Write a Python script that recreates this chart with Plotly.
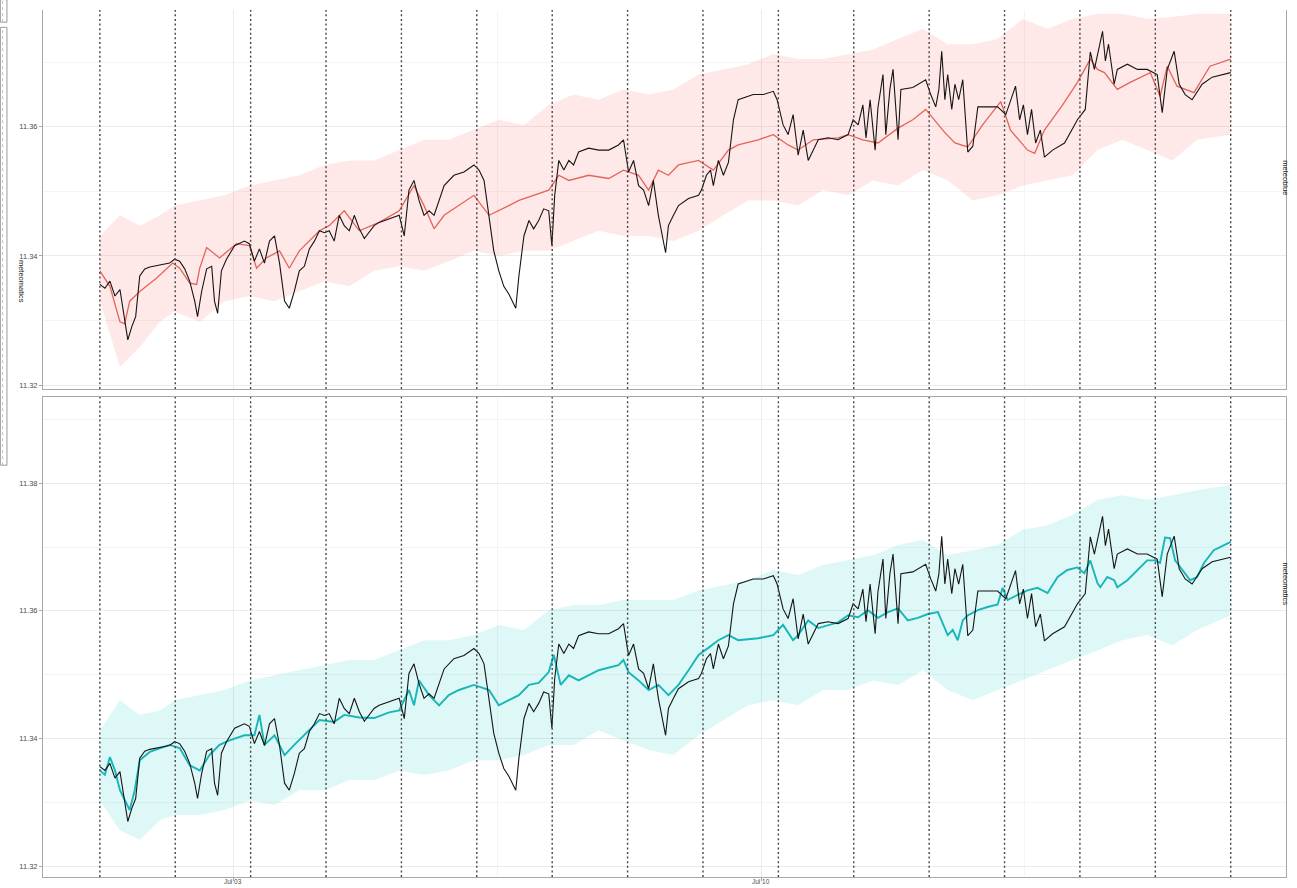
import pandas as pd
import plotly.graph_objects as go
from plotly.subplots import make_subplots

# Series start (first daily marker); all times below are hours after it
start = pd.Timestamp("2023-07-01 05:30")

# Observed level (black), shared by both panels
obs_hours = [0, 1.6, 3.2, 4.8, 6.4, 7.9, 8.9, 10.2, 11.4, 12.7, 14.3, 15.9, 19.1, 22.2, 23.8, 25.4,
             27.0, 28.6, 30.2, 31.1, 32.4, 34.0, 35.6, 36.5, 37.5, 38.7, 40.3, 42.9, 46.0, 47.6, 49.2,
             50.8, 52.4, 54.0, 55.6, 57.2, 58.8, 60.3, 61.9, 63.5, 65.1, 66.7, 68.3, 69.9, 71.5, 73.0,
             74.6, 76.2, 77.8, 79.4, 81.0, 82.6, 84.2, 85.7, 87.3, 88.9, 92.1, 95.3, 96.9, 98.4, 100.0,
             101.6, 103.2, 104.8, 106.4, 108.0, 109.6, 112.7, 115.9, 119.1, 120.7, 122.3, 123.9, 125.4,
             127.0, 128.6, 130.2, 132.4, 133.4, 135.0, 136.6, 138.1, 139.7, 141.3, 142.9, 143.9, 144.8,
             146.1, 147.7, 149.3, 150.8, 152.4, 155.6, 158.8, 162.0, 165.1, 166.7, 168.3, 169.9, 171.5,
             173.1, 174.7, 176.2, 177.8, 180.1, 181.0, 182.6, 184.2, 187.4, 190.6, 191.5, 193.1, 194.4,
             195.3, 196.9, 198.5, 200.1, 201.7, 203.2, 204.8, 208.0, 211.2, 214.4, 215.6, 217.5, 219.1,
             220.7, 222.3, 223.9, 225.5, 227.1, 228.7, 231.8, 235.0, 238.2, 239.8, 241.4, 242.9, 243.9,
             245.2, 246.8, 247.7, 249.3, 250.2, 251.5, 252.5, 254.1, 255.0, 258.8, 262.9, 264.5, 266.1,
             267.1, 268.0, 269.0, 269.9, 271.2, 272.2, 273.4, 274.7, 276.3, 277.9, 279.5, 285.8, 288.4,
             289.9, 291.5, 292.8, 294.0, 295.3, 296.6, 297.9, 299.4, 300.7, 303.3, 307.1, 311.2, 313.7,
             315.3, 316.6, 319.2, 320.1, 321.1, 322.9, 323.9, 327.1, 330.3, 333.4, 336.6, 338.2, 339.8,
             342.0, 343.6, 345.5, 347.7, 350.9, 354.1, 360.0]
obs_level = [11.3356, 11.3350, 11.3361, 11.3338, 11.3348, 11.3298, 11.3270, 11.3291, 11.3306, 11.3369,
             11.3380, 11.3383, 11.3386, 11.3389, 11.3395, 11.3392, 11.3380, 11.3361, 11.3330, 11.3306,
             11.3345, 11.3380, 11.3384, 11.3330, 11.3311, 11.3377, 11.3395, 11.3416, 11.3423, 11.3419,
             11.3392, 11.3411, 11.3389, 11.3423, 11.3431, 11.3389, 11.3330, 11.3319, 11.3345, 11.3377,
             11.3384, 11.3411, 11.3423, 11.3439, 11.3436, 11.3439, 11.3423, 11.3463, 11.3447, 11.3439,
             11.3463, 11.3442, 11.3427, 11.3436, 11.3447, 11.3452, 11.3458, 11.3463, 11.3431, 11.3502,
             11.3517, 11.3486, 11.3463, 11.3470, 11.3463, 11.3486, 11.3509, 11.3525, 11.3530, 11.3541,
             11.3533, 11.3517, 11.3463, 11.3408, 11.3377, 11.3353, 11.3341, 11.3319, 11.3369, 11.3431,
             11.3455, 11.3442, 11.3455, 11.3473, 11.3470, 11.3416, 11.3494, 11.3548, 11.3533, 11.3548,
             11.3541, 11.3561, 11.3567, 11.3564, 11.3564, 11.3572, 11.3580, 11.3530, 11.3548, 11.3509,
             11.3502, 11.3478, 11.3517, 11.3463, 11.3405, 11.3447, 11.3463, 11.3478, 11.3489, 11.3494,
             11.3502, 11.3525, 11.3533, 11.3509, 11.3548, 11.3525, 11.3545, 11.3611, 11.3642, 11.3645,
             11.3650, 11.3650, 11.3655, 11.3642, 11.3603, 11.3588, 11.3619, 11.3556, 11.3595, 11.3548,
             11.3564, 11.3580, 11.3583, 11.3580, 11.3588, 11.3611, 11.3603, 11.3634, 11.3583, 11.3642,
             11.3564, 11.3630, 11.3681, 11.3588, 11.3658, 11.3689, 11.3580, 11.3658, 11.3661, 11.3673,
             11.3650, 11.3631, 11.3658, 11.3717, 11.3642, 11.3681, 11.3627, 11.3666, 11.3642, 11.3673,
             11.3561, 11.3570, 11.3631, 11.3631, 11.3619, 11.3642, 11.3663, 11.3611, 11.3634, 11.3588,
             11.3627, 11.3575, 11.3595, 11.3553, 11.3564, 11.3575, 11.3611, 11.3627, 11.3716, 11.3689,
             11.3748, 11.3702, 11.3728, 11.3666, 11.3689, 11.3697, 11.3689, 11.3689, 11.3681, 11.3622,
             11.3689, 11.3717, 11.3666, 11.3650, 11.3642, 11.3666, 11.3677, 11.3684]

# meteoblue forecast (red)
mb_hours = [0, 3.2, 6.4, 7.9, 9.5, 12.7, 18.1, 23.2, 25.4, 28.6, 30.8, 31.8, 34.0, 38.1, 43.5, 47.6,
            49.9, 53.0, 57.2, 60.3, 63.5, 67.6, 69.9, 73.0, 77.8, 82.6, 88.9, 95.3, 100.0, 103.2, 106.4,
            109.6, 114.3, 119.1, 123.9, 127.0, 130.2, 133.4, 138.1, 142.9, 146.1, 149.3, 155.6, 162.0,
            166.7, 171.5, 174.7, 177.8, 181.0, 184.2, 190.6, 195.3, 200.1, 203.2, 209.6, 214.4, 219.1,
            222.3, 227.1, 235.0, 238.2, 242.9, 247.7, 254.1, 258.8, 262.9, 269.0, 272.2, 276.3, 281.0,
            286.8, 289.9, 295.3, 297.6, 300.7, 306.5, 311.2, 315.3, 317.6, 319.8, 323.9, 328.0, 334.4,
            337.5, 339.8, 342.9, 348.3, 353.4, 360.0]
mb_level = [11.3377, 11.3353, 11.3298, 11.3295, 11.3330, 11.3345, 11.3366, 11.3389, 11.3381, 11.3358,
            11.3356, 11.3381, 11.3413, 11.3397, 11.3419, 11.3416, 11.3381, 11.3397, 11.3408, 11.3381,
            11.3408, 11.3428, 11.3439, 11.3447, 11.3470, 11.3439, 11.3452, 11.3470, 11.3509, 11.3478,
            11.3442, 11.3463, 11.3478, 11.3494, 11.3463, 11.3470, 11.3478, 11.3486, 11.3494, 11.3502,
            11.3525, 11.3517, 11.3525, 11.3520, 11.3533, 11.3525, 11.3502, 11.3533, 11.3525, 11.3541,
            11.3548, 11.3533, 11.3564, 11.3572, 11.3580, 11.3588, 11.3572, 11.3564, 11.3580, 11.3583,
            11.3588, 11.3580, 11.3575, 11.3598, 11.3611, 11.3627, 11.3591, 11.3575, 11.3569, 11.3603,
            11.3639, 11.3595, 11.3564, 11.3559, 11.3595, 11.3634, 11.3669, 11.3705, 11.3689, 11.3684,
            11.3658, 11.3669, 11.3684, 11.3647, 11.3694, 11.3663, 11.3653, 11.3694, 11.3705]

# meteomatics forecast (teal)
mm_hours = [0, 1.6, 3.2, 4.8, 6.4, 7.9, 9.5, 11.1, 12.7, 15.9, 19.1, 22.2, 25.4, 28.6, 31.8, 34.9,
            38.1, 41.3, 46.0, 49.2, 50.8, 52.4, 55.6, 58.8, 61.9, 65.1, 69.9, 74.6, 77.8, 82.6, 87.3,
            92.1, 95.3, 98.4, 100.0, 101.6, 104.8, 108.0, 111.1, 114.3, 119.1, 123.9, 127.0, 130.2,
            133.4, 136.6, 139.7, 142.9, 144.5, 146.7, 149.3, 152.4, 155.6, 158.8, 165.1, 166.7, 168.3,
            171.5, 174.7, 177.8, 181.0, 184.2, 187.4, 190.6, 193.7, 196.9, 200.1, 203.2, 209.6, 214.4,
            217.5, 220.7, 222.3, 225.5, 228.7, 231.8, 235.0, 238.2, 241.4, 244.5, 247.7, 250.9, 254.1,
            257.2, 260.4, 263.6, 266.8, 269.9, 271.5, 273.1, 274.7, 276.3, 279.5, 282.6, 285.8, 287.4,
            289.0, 292.2, 295.3, 298.5, 301.7, 304.9, 308.0, 311.2, 313.4, 315.3, 317.6, 318.5, 320.7,
            322.9, 323.9, 327.1, 330.3, 333.4, 335.7, 337.5, 339.1, 340.7, 342.3, 343.9, 347.1, 349.3,
            351.5, 354.6, 360.0]
mm_level = [11.3350, 11.3343, 11.3371, 11.3350, 11.3319, 11.3303, 11.3288, 11.3319, 11.3366, 11.3379,
            11.3385, 11.3390, 11.3385, 11.3358, 11.3350, 11.3374, 11.3390, 11.3397, 11.3405, 11.3405,
            11.3437, 11.3390, 11.3405, 11.3374, 11.3390, 11.3405, 11.3429, 11.3426, 11.3437, 11.3433,
            11.3432, 11.3441, 11.3444, 11.3476, 11.3452, 11.3491, 11.3468, 11.3452, 11.3468, 11.3476,
            11.3484, 11.3476, 11.3452, 11.3460, 11.3468, 11.3484, 11.3487, 11.3504, 11.3531, 11.3484,
            11.3499, 11.3491, 11.3499, 11.3507, 11.3515, 11.3523, 11.3504, 11.3491, 11.3476, 11.3484,
            11.3468, 11.3484, 11.3507, 11.3531, 11.3542, 11.3554, 11.3562, 11.3554, 11.3557, 11.3562,
            11.3578, 11.3554, 11.3562, 11.3585, 11.3573, 11.3578, 11.3582, 11.3593, 11.3590, 11.3601,
            11.3589, 11.3598, 11.3604, 11.3585, 11.3589, 11.3595, 11.3598, 11.3562, 11.3570, 11.3554,
            11.3585, 11.3593, 11.3601, 11.3606, 11.3610, 11.3636, 11.3617, 11.3625, 11.3632, 11.3636,
            11.3628, 11.3653, 11.3664, 11.3668, 11.3659, 11.3679, 11.3643, 11.3637, 11.3653, 11.3648,
            11.3637, 11.3648, 11.3664, 11.3679, 11.3679, 11.3675, 11.3715, 11.3714, 11.3679, 11.3668,
            11.3648, 11.3653, 11.3675, 11.3695, 11.3708]

# Forecast spread bands, sampled on a common time grid
band_hours = [0, 6.4, 12.7, 19.1, 23.8, 31.8, 39.7, 47.6, 55.6, 63.5, 71.5, 79.4, 87.3, 95.3, 103.2,
              111.1, 119.1, 127.0, 135.0, 142.9, 150.8, 158.8, 166.7, 174.7, 182.6, 190.6, 198.5,
              206.4, 214.4, 222.3, 230.2, 238.2, 246.1, 254.1, 262.0, 269.9, 277.9, 285.8, 293.8,
              301.7, 309.6, 317.6, 325.5, 333.4, 341.4, 349.3, 360.0]
mb_upper = [11.3431, 11.3463, 11.3447, 11.3463, 11.3478, 11.3486, 11.3494, 11.3509, 11.3517, 11.3525,
            11.3541, 11.3548, 11.3548, 11.3564, 11.3580, 11.3580, 11.3595, 11.3611, 11.3603, 11.3634,
            11.3650, 11.3642, 11.3658, 11.3650, 11.3658, 11.3681, 11.3689, 11.3697, 11.3713, 11.3705,
            11.3705, 11.3713, 11.3720, 11.3736, 11.3752, 11.3728, 11.3728, 11.3736, 11.3767, 11.3752,
            11.3767, 11.3775, 11.3775, 11.3767, 11.3770, 11.3775, 11.3775]
mb_lower = [11.3330, 11.3228, 11.3259, 11.3298, 11.3314, 11.3298, 11.3330, 11.3338, 11.3330, 11.3345,
            11.3361, 11.3353, 11.3377, 11.3384, 11.3377, 11.3392, 11.3408, 11.3400, 11.3408, 11.3408,
            11.3423, 11.3439, 11.3431, 11.3431, 11.3423, 11.3439, 11.3463, 11.3486, 11.3486, 11.3478,
            11.3502, 11.3494, 11.3517, 11.3509, 11.3533, 11.3517, 11.3486, 11.3494, 11.3509, 11.3517,
            11.3525, 11.3564, 11.3580, 11.3564, 11.3548, 11.3580, 11.3588]
mm_upper = [11.3413, 11.3460, 11.3437, 11.3444, 11.3460, 11.3468, 11.3476, 11.3491, 11.3499, 11.3507,
            11.3515, 11.3523, 11.3523, 11.3538, 11.3554, 11.3554, 11.3562, 11.3578, 11.3570, 11.3601,
            11.3609, 11.3609, 11.3617, 11.3617, 11.3617, 11.3632, 11.3640, 11.3648, 11.3664, 11.3656,
            11.3672, 11.3679, 11.3687, 11.3703, 11.3711, 11.3687, 11.3695, 11.3703, 11.3727, 11.3734,
            11.3750, 11.3774, 11.3781, 11.3774, 11.3781, 11.3789, 11.3797]
mm_lower = [11.3303, 11.3256, 11.3241, 11.3272, 11.3280, 11.3280, 11.3288, 11.3303, 11.3296, 11.3319,
            11.3319, 11.3335, 11.3335, 11.3350, 11.3343, 11.3350, 11.3366, 11.3366, 11.3374, 11.3390,
            11.3390, 11.3413, 11.3397, 11.3382, 11.3374, 11.3405, 11.3429, 11.3452, 11.3460, 11.3452,
            11.3476, 11.3476, 11.3491, 11.3484, 11.3507, 11.3476, 11.3460, 11.3476, 11.3491, 11.3507,
            11.3523, 11.3538, 11.3554, 11.3562, 11.3546, 11.3570, 11.3593]

panel_names = ["meteoblue", "meteomatics"]
week_ticks = ["2023-07-03", "2023-07-10"]
week_labels = ["Jul 03", "Jul 10"]
mid_week = ["2023-07-06 12:00", "2023-07-13 12:00"]
y_major = [11.32, 11.34, 11.36, 11.38]
y_minor = [11.31, 11.33, 11.35, 11.37, 11.39]


def to_time(hours):
    return start + pd.to_timedelta(hours, unit="h")


obs_t = to_time(obs_hours)
band_t = to_time(band_hours)

fig = make_subplots(rows=2, cols=1, shared_xaxes=True, vertical_spacing=0.01)

panels = [
    (1, mb_hours, mb_level, mb_lower, mb_upper, "#E5645A", 1.3, "rgba(248,118,109,0.16)"),
    (2, mm_hours, mm_level, mm_lower, mm_upper, "#17B6B8", 1.9, "rgba(0,191,196,0.13)"),
]
for row, f_hours, f_level, lo, hi, col, lw, band_col in panels:
    fig.add_trace(go.Scatter(x=band_t, y=lo, mode="lines", line=dict(width=0),
                             hoverinfo="skip", showlegend=False), row=row, col=1)
    fig.add_trace(go.Scatter(x=band_t, y=hi, mode="lines", line=dict(width=0),
                             fill="tonexty", fillcolor=band_col,
                             hoverinfo="skip", showlegend=False), row=row, col=1)
    fig.add_trace(go.Scatter(x=to_time(f_hours), y=f_level, mode="lines",
                             line=dict(color=col, width=lw), showlegend=False),
                  row=row, col=1)
    fig.add_trace(go.Scatter(x=obs_t, y=obs_level, mode="lines",
                             line=dict(color="#151515", width=1.1), showlegend=False),
                  row=row, col=1)

# Daily markers across both panels
day_marks = pd.date_range(start, periods=16, freq="D")
for d in day_marks:
    for xr, yr in (("x", "y domain"), ("x2", "y2 domain")):
        fig.add_shape(type="line", xref=xr, yref=yr, x0=d, x1=d, y0=0, y1=1,
                      line=dict(color="#444444", width=1.4, dash="2px,2.6px"))

x_range = [start - pd.Timedelta(hours=18.1), start + pd.Timedelta(hours=377.6)]
tick_font = dict(family="Liberation Sans, Arial, sans-serif", size=7.5, color="#4d4d4d")
border = "#a8a8a8"

common_x = dict(range=x_range, tickvals=week_ticks, automargin=False, showticklabels=False,
                showgrid=True, gridcolor="#ebebeb", gridwidth=1,
                minor=dict(tickvals=mid_week, showgrid=True, gridcolor="#f4f4f4", gridwidth=0.7),
                zeroline=False, ticks="outside", ticklen=3,
                tickcolor=border, linecolor=border, showline=True, linewidth=1)
fig.update_xaxes(**common_x)
fig.update_xaxes(mirror=False, ticks="", row=1, col=1)
fig.update_xaxes(mirror=True, row=2, col=1)

# Date labels under the bottom panel, kept inside the page
for tv, tl in zip(week_ticks, week_labels):
    fig.add_annotation(text=tl, x=tv, xref="x2", yref="paper", y=-0.0052, yanchor="middle",
                       showarrow=False, font=dict(family="Liberation Sans, Arial, sans-serif",
                                                  size=6.5, color="#4d4d4d"))

common_y = dict(tickvals=y_major, tickformat=".2f", showgrid=True, gridcolor="#ebebeb", gridwidth=1,
                minor=dict(tickvals=y_minor, showgrid=True, gridcolor="#f4f4f4", gridwidth=0.7),
                zeroline=False, tickfont=tick_font, ticks="outside", ticklen=3, tickcolor=border,
                showline=True, linecolor=border, linewidth=1, mirror=True, automargin=False)
fig.update_yaxes(**common_y)
fig.update_yaxes(range=[11.3194, 11.3781], domain=[0.5629, 1.0], row=1, col=1)
fig.update_yaxes(range=[11.3183, 11.3935], domain=[0.0, 0.5536], row=2, col=1)

# Facet strip labels on the right
strip_font = dict(family="Liberation Sans, Arial, sans-serif", size=7.5, color="#1a1a1a")
for name, ypos in zip(panel_names, [0.829, 0.311]):
    fig.add_annotation(text=name, xref="paper", yref="paper", x=1.0048, y=ypos,
                       showarrow=False, textangle=90, font=strip_font)

# Strip of a neighbouring facet at the far left
for y0, y1 in ((0.986, 1.012), (0.475, 0.980)):
    fig.add_shape(type="rect", xref="paper", yref="paper", x0=-0.0343, x1=-0.0290,
                  y0=y0, y1=y1, line=dict(color="#9a9a9a", width=1), fillcolor="white")
    fig.add_shape(type="line", xref="paper", yref="paper", x0=-0.0325, x1=-0.0325,
                  y0=y0, y1=y1, line=dict(color="#bdbdbd", width=1, dash="dot"))
fig.add_annotation(text="meteomatics", xref="paper", yref="paper", x=-0.0225, y=0.714,
                   showarrow=False, textangle=90, font=strip_font)

fig.update_layout(
    width=1297, height=888,
    margin=dict(l=43, r=11, t=10, b=11),
    paper_bgcolor="white", plot_bgcolor="white",
    showlegend=False,
)

fig.write_html("out.html")
